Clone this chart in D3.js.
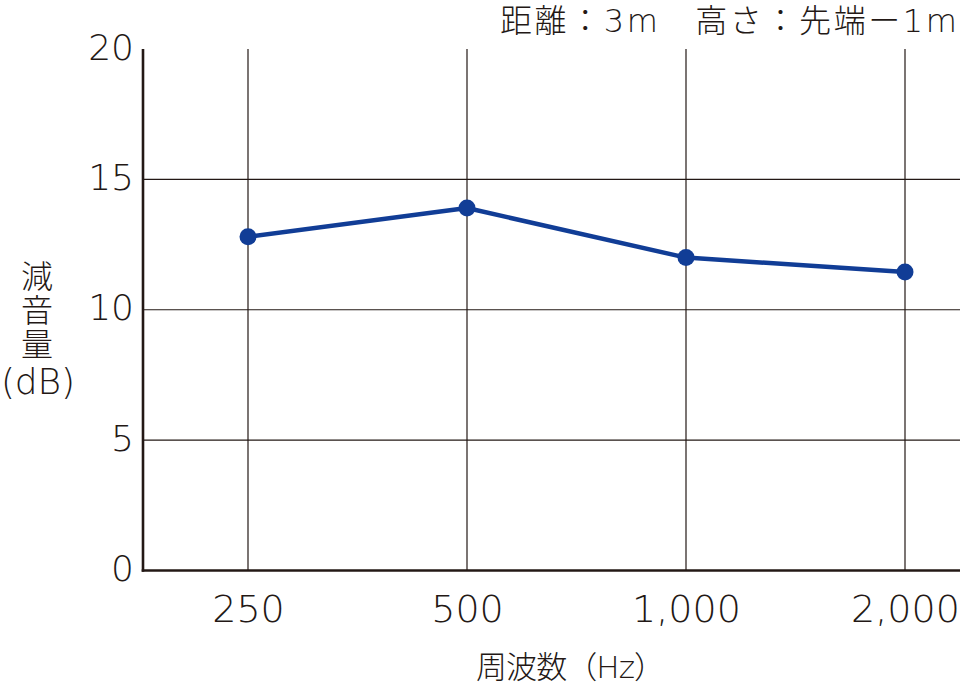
<!DOCTYPE html>
<html><head><meta charset="utf-8">
<script src="https://cdn.jsdelivr.net/npm/d3@7"></script>
<style>
html,body{margin:0;padding:0;background:#fff;}
svg{display:block;}
text{fill:#231815;}
</style></head>
<body>
<svg id="c" width="960" height="686"></svg>
<script>
const categories = ["250", "500", "1,000", "2,000"];
const values = [12.8, 13.9, 12.0, 11.45];
const yTicks = [0, 5, 10, 15, 20];
const gridY = [5, 10, 15];
const title = "距離：3m　高さ：先端ー1m";
const yTitle = "減音量";
const yUnit = "(dB)";
const xTitle = "周波数（Hz）";

(function () {
const pLeft = 143, pTop = 49, pBottom = 570.5, pRight = 960;
const latin = "'DejaVu Sans','Noto Sans CJK JP',sans-serif";
const cjk = "'Noto Sans CJK JP',sans-serif";

const svg = d3.select("#c");
const x = d3.scalePoint().domain(categories).range([138.5, 1014.5]).padding(0.5);
const y = d3.scaleLinear().domain([0, 20]).range([pBottom, pTop]);

// horizontal gridlines
svg.append("g").selectAll("line").data(gridY).join("line")
  .attr("x1", pLeft).attr("x2", pRight)
  .attr("y1", d => y(d)).attr("y2", d => y(d))
  .attr("stroke", "#231815").attr("stroke-width", 1.2);
// vertical gridlines
svg.append("g").selectAll("line").data(categories).join("line")
  .attr("x1", d => x(d)).attr("x2", d => x(d))
  .attr("y1", pTop).attr("y2", pBottom)
  .attr("stroke", "#231815").attr("stroke-width", 1.2);

// axes
const yAxis = svg.append("g").attr("transform", `translate(${pLeft},0)`)
  .call(d3.axisLeft(y).tickValues(yTicks).tickSize(0).tickPadding(10));
yAxis.select(".domain").remove();
yAxis.selectAll("text")
  .attr("dy", null).attr("y", 10).attr("x", -9)
  .style("font-family", latin).style("font-size", "36px").style("font-weight", 200)
  .attr("fill", "#231815");

const xAxis = svg.append("g").attr("transform", `translate(0,${pBottom})`)
  .call(d3.axisBottom(x).tickSize(0).tickPadding(0));
xAxis.select(".domain").remove();
xAxis.selectAll("text")
  .attr("dy", null).attr("y", 51)
  .style("font-family", latin).style("font-size", "38px").style("font-weight", 200)
  .attr("fill", "#231815");

// axis lines
svg.append("line").attr("x1", pLeft).attr("x2", pLeft).attr("y1", pTop).attr("y2", pBottom + 1.2)
  .attr("stroke", "#231815").attr("stroke-width", 2.6);
svg.append("line").attr("x1", pLeft - 1.3).attr("x2", pRight).attr("y1", pBottom).attr("y2", pBottom)
  .attr("stroke", "#231815").attr("stroke-width", 2.6);

// series
const data = categories.map((c, i) => ({c, v: values[i]}));
svg.append("path").datum(data)
  .attr("d", d3.line().x(d => x(d.c)).y(d => y(d.v)))
  .attr("fill", "none").attr("stroke", "#113d96").attr("stroke-width", 4.5)
  .attr("stroke-linejoin", "round");
svg.append("g").selectAll("circle").data(data).join("circle")
  .attr("cx", d => x(d.c)).attr("cy", d => y(d.v)).attr("r", 8.5)
  .attr("fill", "#113d96");

// title top-right
svg.append("text").attr("x", 500).attr("y", 32)
  .attr("textLength", 457).attr("lengthAdjust", "spacing")
  .style("font-family", latin).style("font-size", "32px").style("font-weight", 200)
  .text(title);

// y title (vertical)
svg.append("text").attr("x", 37).attr("y", 260)
  .style("writing-mode", "vertical-rl").style("letter-spacing", "2px")
  .style("font-family", cjk).style("font-size", "32px").style("font-weight", 300)
  .text(yTitle);
svg.append("text").attr("x", 1).attr("y", 394)
  .attr("textLength", 74).attr("lengthAdjust", "spacing")
  .style("font-family", latin).style("font-size", "36px").style("font-weight", 200)
  .text(yUnit);

// x title
svg.append("text").attr("x", 476).attr("y", 678)
  .attr("textLength", 189).attr("lengthAdjust", "spacing")
  .style("font-family", latin).style("font-size", "31px").style("font-weight", 200)
  .text(xTitle);
})();
</script>
</body></html>
